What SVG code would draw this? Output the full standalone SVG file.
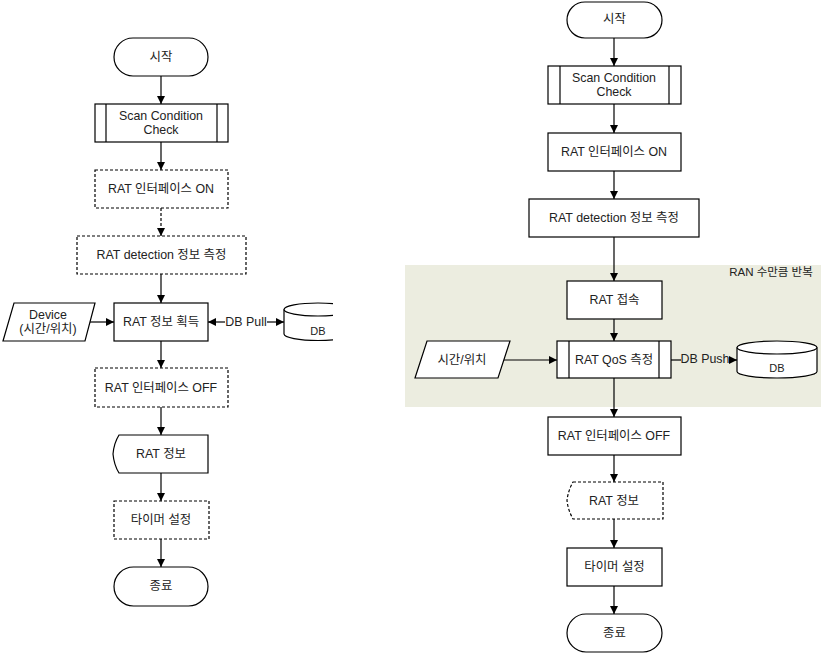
<svg xmlns="http://www.w3.org/2000/svg" width="821" height="653" viewBox="0 0 821 653">
<style>
.s{fill:#fff;stroke:#000;stroke-width:1.2}
.d{fill:#fff;stroke:#000;stroke-width:1.2;stroke-dasharray:3,2}
.l{fill:none;stroke:#000;stroke-width:1.2}
.ld{fill:none;stroke:#000;stroke-width:1.2;stroke-dasharray:3,2}
text{font-family:"Liberation Sans","Noto Sans CJK KR",sans-serif;font-size:12.4px;fill:#222;text-anchor:middle;dominant-baseline:central}
</style>
<defs>
<marker id="a" viewBox="0 0 10 10" refX="10" refY="5" markerWidth="8" markerHeight="8" markerUnits="userSpaceOnUse" orient="auto"><path d="M0,0 L10,5 L0,10 z" fill="#000"/></marker>
<clipPath id="cl"><rect x="0" y="0" width="333" height="653"/></clipPath>
</defs>
<rect width="821" height="653" fill="#fff"/>
<rect id="loop" x="405" y="265" width="416" height="142" fill="#ecede0"/>
<text x="771" y="272" style="font-size:11.5px">RAN 수만큼 반복</text>

<g id="connectors">
<line class="l" x1="161" y1="76" x2="161" y2="104" marker-end="url(#a)"/>
<line class="l" x1="161" y1="142" x2="161" y2="170" marker-end="url(#a)"/>
<line class="ld" x1="161" y1="208" x2="161" y2="236" marker-end="url(#a)"/>
<line class="l" x1="161" y1="274" x2="161" y2="303" marker-end="url(#a)"/>
<line class="l" x1="161" y1="341" x2="161" y2="368" marker-end="url(#a)"/>
<line class="l" x1="161" y1="407" x2="161" y2="435" marker-end="url(#a)"/>
<line class="l" x1="161" y1="473" x2="161" y2="501" marker-end="url(#a)"/>
<line class="l" x1="161" y1="539" x2="161" y2="567" marker-end="url(#a)"/>
<line class="l" x1="90" y1="322" x2="114" y2="322" marker-end="url(#a)"/>
<line class="l" x1="225" y1="322" x2="208" y2="322" marker-end="url(#a)"/>
<line class="l" x1="267" y1="322" x2="284" y2="322" marker-end="url(#a)"/>
<text x="246" y="322">DB Pull</text>

<line class="l" x1="614" y1="38" x2="614" y2="66" marker-end="url(#a)"/>
<line class="l" x1="614" y1="104" x2="614" y2="133" marker-end="url(#a)"/>
<line class="l" x1="614" y1="171" x2="614" y2="199" marker-end="url(#a)"/>
<line class="l" x1="614" y1="237" x2="614" y2="281" marker-end="url(#a)"/>
<line class="l" x1="614" y1="319" x2="614" y2="341" marker-end="url(#a)"/>
<line class="l" x1="614" y1="378" x2="614" y2="417" marker-end="url(#a)"/>
<line class="l" x1="614" y1="455" x2="614" y2="482" marker-end="url(#a)"/>
<line class="l" x1="614" y1="519" x2="614" y2="548" marker-end="url(#a)"/>
<line class="l" x1="614" y1="586" x2="614" y2="614" marker-end="url(#a)"/>
<line class="l" x1="504" y1="360" x2="557" y2="360" marker-end="url(#a)"/>
<line class="l" x1="671" y1="360" x2="681" y2="360"/>
<line class="l" x1="730" y1="360" x2="737" y2="360" marker-end="url(#a)"/>
<text x="705" y="359">DB Push</text>
</g>

<g id="l-start"><rect class="s" x="114" y="38" width="94" height="38" rx="19"/><text x="161" y="57">시작</text></g>
<g id="l-scan"><rect class="s" x="95" y="104" width="133" height="38"/><line class="l" x1="106" y1="104" x2="106" y2="142"/><line class="l" x1="217" y1="104" x2="217" y2="142"/><text x="161" y="115.5">Scan Condition</text><text x="161" y="130">Check</text></g>
<g id="l-on"><rect class="d" x="95" y="170" width="133" height="38"/><text x="161" y="189">RAT 인터페이스 ON</text></g>
<g id="l-detect"><rect class="d" x="77" y="236" width="169" height="38"/><text x="161.5" y="255">RAT detection 정보 측정</text></g>
<g id="l-device"><path class="s" d="M14,303 L95,303 L85,341 L3,341 z"/><text x="48" y="314.5">Device</text><text x="48" y="329">(시간/위치)</text></g>
<g id="l-get"><rect class="s" x="114" y="303" width="94" height="38"/><text x="161" y="322">RAT 정보 획득</text></g>
<g id="l-db" clip-path="url(#cl)"><path class="s" d="M284,309.5 A34,6.5 0 0 1 352,309.5 L352,334 A34,6.5 0 0 1 284,334 z"/><path class="l" d="M284,309.5 A34,6.5 0 0 0 352,309.5"/><text x="318" y="331" style="font-size:11px">DB</text></g>
<g id="l-off"><rect class="d" x="95" y="368" width="133" height="39"/><text x="161" y="387.5">RAT 인터페이스 OFF</text></g>
<g id="l-info"><path class="s" d="M119,435 L208,435 L208,473 L119,473 Q114,465 113,454 Q114,443 119,435 z"/><text x="161" y="454">RAT 정보</text></g>
<g id="l-timer"><rect class="d" x="114" y="501" width="95" height="38"/><text x="161" y="520">타이머 설정</text></g>
<g id="l-end"><rect class="s" x="114" y="567" width="94" height="39" rx="19.5"/><text x="161" y="586">종료</text></g>

<g id="r-start"><rect class="s" x="567" y="2" width="95" height="36" rx="18"/><text x="614.5" y="19">시작</text></g>
<g id="r-scan"><rect class="s" x="548" y="66" width="133" height="38"/><line class="l" x1="560" y1="66" x2="560" y2="104"/><line class="l" x1="669" y1="66" x2="669" y2="104"/><text x="614" y="77.5">Scan Condition</text><text x="614" y="92">Check</text></g>
<g id="r-on"><rect class="s" x="548" y="133" width="133" height="38"/><text x="614" y="152">RAT 인터페이스 ON</text></g>
<g id="r-detect"><rect class="s" x="529" y="199" width="170" height="38"/><text x="614" y="218">RAT detection 정보 측정</text></g>
<g id="r-connect"><rect class="s" x="567" y="281" width="95" height="38"/><text x="614.5" y="300">RAT 접속</text></g>
<g id="r-time"><path class="s" d="M427,341 L510,341 L498,378 L415,378 z"/><text x="462" y="359.5">시간/위치</text></g>
<g id="r-qos"><rect class="s" x="557" y="341" width="114" height="37"/><line class="l" x1="569" y1="341" x2="569" y2="378"/><line class="l" x1="659" y1="341" x2="659" y2="378"/><text x="614" y="359.5">RAT QoS 측정</text></g>
<g id="r-db"><path class="s" d="M737,347.5 A40,6.5 0 0 1 817,347.5 L817,371.5 A40,6.5 0 0 1 737,371.5 z"/><path class="l" d="M737,347.5 A40,6.5 0 0 0 817,347.5"/><text x="777" y="368" style="font-size:11px">DB</text></g>
<g id="r-off"><rect class="s" x="548" y="417" width="133" height="38"/><text x="614" y="436">RAT 인터페이스 OFF</text></g>
<g id="r-info"><path class="d" d="M573,482 L663,482 L663,519 L573,519 Q568,510 567,500.5 Q568,491 573,482 z"/><text x="614" y="500.5">RAT 정보</text></g>
<g id="r-timer"><rect class="s" x="567" y="548" width="95" height="38"/><text x="614.5" y="567">타이머 설정</text></g>
<g id="r-end"><rect class="s" x="567" y="614" width="95" height="38" rx="19"/><text x="614.5" y="633">종료</text></g>
</svg>
